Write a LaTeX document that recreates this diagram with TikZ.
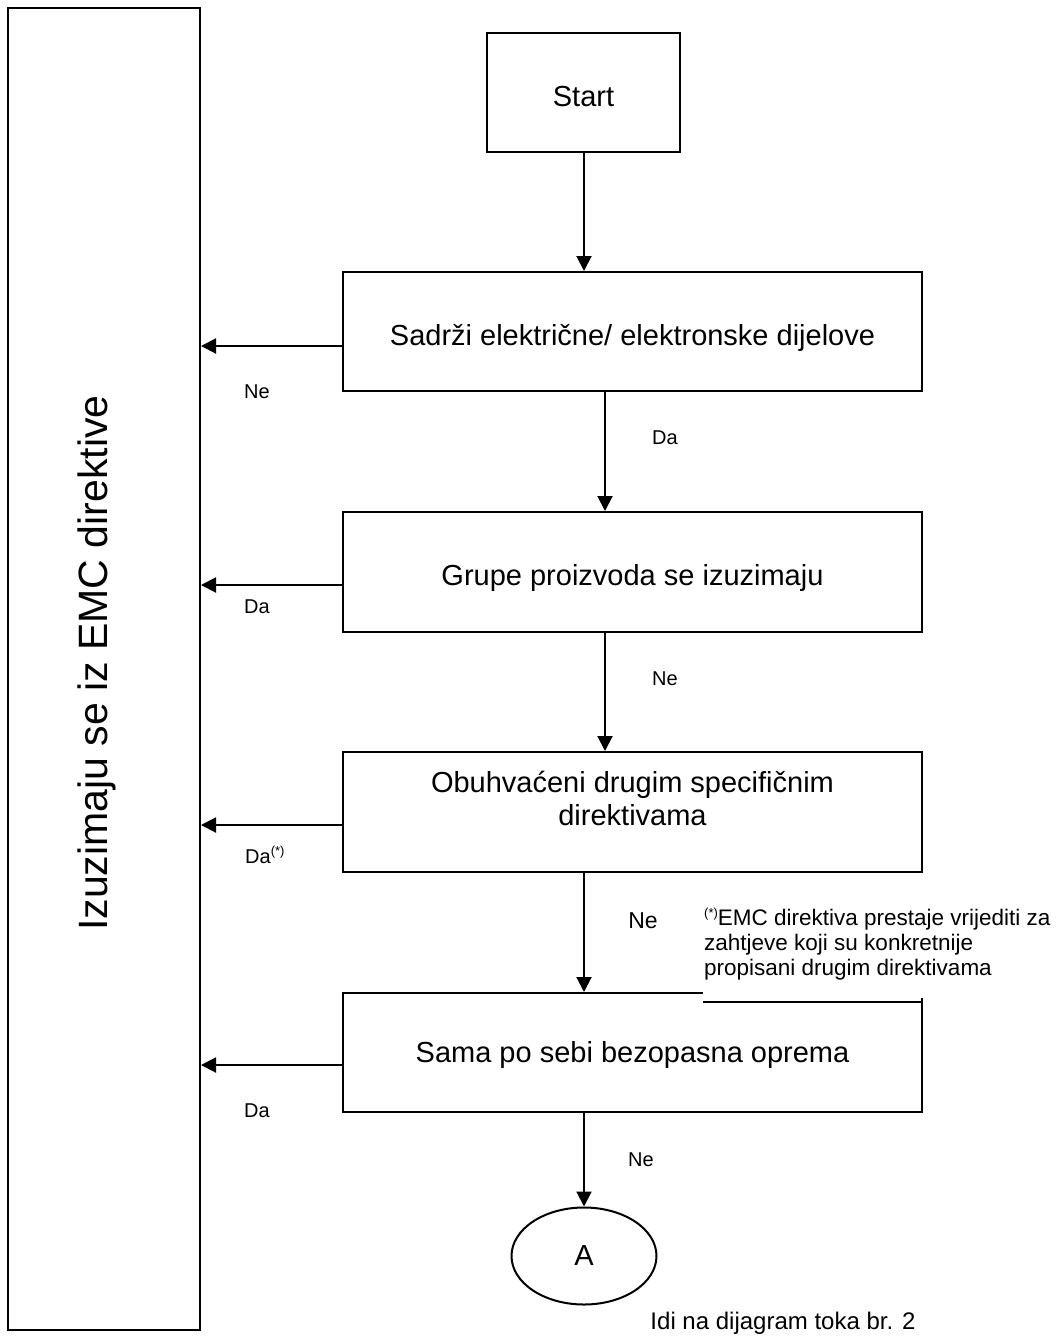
\documentclass[tikz,border=0pt]{standalone}
\usepackage{fontspec}
\setmainfont{Liberation Sans}
\usetikzlibrary{arrows.meta,shapes.geometric}
\newcommand{\sups}[1]{{\fontsize{13}{13}\selectfont\raisebox{8pt}{#1}}}
\begin{document}
\begin{tikzpicture}[x=1pt,y=-1pt,
  box/.style={draw,line width=2pt,inner sep=0pt,align=center,
    font=\fontsize{29}{33}\selectfont},
  low/.style={text height=28pt,text depth=1pt},
  txt/.style={inner sep=0pt,align=center,font=\fontsize{29}{33}\selectfont},
  arr/.style={line width=2pt,-{Triangle[length=15pt,width=15pt]}},
  lbl/.style={inner sep=0pt,font=\fontsize{20}{24}\selectfont},
  lblb/.style={inner sep=0pt,font=\fontsize{23}{26}\selectfont}]
\useasboundingbox (0,0) rectangle (1060,1342);

% exemption column on the left
\node[box,minimum width=192pt,minimum height=1322pt] (izz) at (104,669) {};
\node[txt,rotate=90,font=\fontsize{41}{45}\selectfont] (izzt) at (97,663)
  {Izuzimaju se iz EMC direktive};

% decision chain
\node[box,low,minimum width=193pt,minimum height=119pt] (start) at (583.5,92.5)
  {Start};
\node[box,low,minimum width=579pt,minimum height=119pt] (b1) at (632.5,331.5)
  {Sadrži električne/ elektronske dijelove};
\node[box,low,minimum width=579pt,minimum height=120pt] (b2) at (632.5,572)
  {Grupe proizvoda se izuzimaju};
\node[box,minimum width=579pt,minimum height=120pt] (b3) at (632.5,812) {};
\node[txt] (b3t) at (632.5,798) {Obuhvaćeni drugim specifičnim\\direktivama};
\node[box,minimum width=579pt,minimum height=119pt,text height=24pt,text depth=5pt]
  (b4) at (632.5,1052.5) {Sama po sebi bezopasna oprema};
\node[draw,line width=2pt,ellipse,minimum width=145pt,minimum height=97pt,
  inner sep=0pt,font=\fontsize{29}{33}\selectfont] (A) at (584,1256) {A};

% footnote; its white frame hides part of the top edge of the last box
\coordinate (fncorner) at (703,0);
\fill[white] ([yshift=5pt]fncorner |- b4.north) rectangle ([yshift=-6pt]1060,0 |- b4.north);
\draw[line width=2pt] ([yshift=-10pt]fncorner |- b4.north) -- ([yshift=-10pt]b4.north east);
\node[inner sep=0pt,anchor=north west,align=left,font=\fontsize{22.5}{25}\selectfont]
  (fn) at (704,908)
  {\sups{(*)}EMC direktiva prestaje vrijediti za\\
   zahtjeve koji su konkretnije\\
   propisani drugim direktivama};

\node[inner sep=0pt,font=\fontsize{24}{28}\selectfont] (goto) at (783,1323)
  {Idi na dijagram toka br. 2};

% vertical flow
\draw[arr] (start.south -| 584,0) -- (b1.north -| 584,0);
\draw[arr] (b1.south -| 605,0) -- (b2.north -| 605,0);
\draw[arr] (b2.south -| 605,0) -- (b3.north -| 605,0);
\draw[arr] (b3.south -| 584,0) -- (b4.north -| 584,0);
\draw[arr] (b4.south -| 584,0) -- (A.north);

% exits to the exemption column
\draw[arr] (b1.west |- 0,346) -- (izz.east |- 0,346);
\draw[arr] (b2.west |- 0,585) -- (izz.east |- 0,585);
\draw[arr] (b3.west |- 0,825) -- (izz.east |- 0,825);
\draw[arr] (b4.west |- 0,1065) -- (izz.east |- 0,1065);

% branch labels
\node[lbl] (l1) at (257,392) {Ne};
\node[lbl] (l2) at (665,438) {Da};
\node[lbl] (l3) at (257,607) {Da};
\node[lbl] (l4) at (665,679) {Ne};
\node[lbl,anchor=west] (l5) at (245,855) {Da\sups{(*)}};
\node[lblb] (l6) at (643,921) {Ne};
\node[lbl] (l7) at (257,1111) {Da};
\node[lbl] (l8) at (641,1160) {Ne};
\end{tikzpicture}
\end{document}
